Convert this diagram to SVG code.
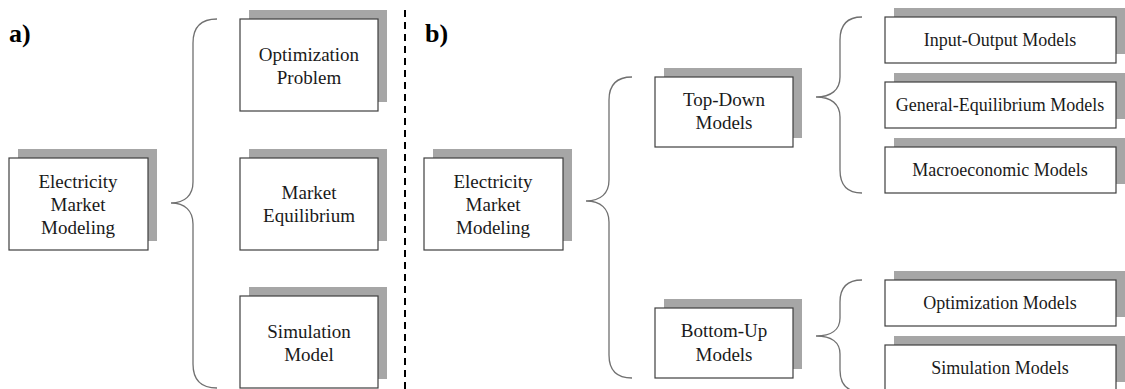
<svg xmlns="http://www.w3.org/2000/svg" width="1125" height="389" viewBox="0 0 1125 389">
<style>
.sh{fill:#a6a6a6;stroke:none}
.bx{fill:#fff;stroke:#3f3f3f;stroke-width:1.2}
.t{font-size:19px;fill:#1a1a1a;text-anchor:middle}
.s{font-size:18px;fill:#1a1a1a;text-anchor:middle}
.lb{font-size:26px;font-weight:bold;fill:#000}
.br{fill:none;stroke:#707070;stroke-width:1.3}
</style>
<rect width="1125" height="389" fill="#fff"/>
<g font-family="'Liberation Serif', 'DejaVu Serif', serif">
<text class="lb" x="9" y="42">a)</text>
<text class="lb" x="425" y="42">b)</text>
</g>
<line x1="405" y1="10" x2="405" y2="389" stroke="#000" stroke-width="2" stroke-dasharray="7,5"/>
<g id="connectors">
<path class="br" d="M217,19 C201,19 193,27 193,43 L193,182 C193,195 185,203 171,203 C185,203 193,211 193,224 L193,364 C193,380 201,388 217,388"/>
<path class="br" d="M632,77 C616,77 609,85 609,100 L609,180 C609,193 601,201 586,201 C601,201 609,209 609,222 L609,355 C609,370 616,378 632,378"/>
<path class="br" d="M862,17 C847,17 840,25 840,40 L840,77 C840,90 831,97 816,97 C831,97 840,104 840,117 L840,170 C840,185 847,193 862,193"/>
<path class="br" d="M862,280 C847,280 840,288 840,302 L840,318 C840,330 831,336 816,336 C831,336 840,342 840,354 L840,370 C840,384 847,392 862,392"/>
</g>
<g font-family="'Liberation Serif', 'DejaVu Serif', serif">
<g id="a_emm"><rect class="sh" x="18" y="149" width="139" height="92"/><rect class="bx" x="9" y="158" width="139" height="92"/><text class="t" x="78" y="188">Electricity</text><text class="t" x="78" y="211">Market</text><text class="t" x="78" y="234">Modeling</text></g>
<g id="a_opt"><rect class="sh" x="249" y="10" width="138" height="92"/><rect class="bx" x="240" y="19" width="138" height="92"/><text class="t" x="309" y="61">Optimization</text><text class="t" x="309" y="84">Problem</text></g>
<g id="a_meq"><rect class="sh" x="249" y="149" width="138" height="92"/><rect class="bx" x="240" y="158" width="138" height="92"/><text class="t" x="309" y="199">Market</text><text class="t" x="309" y="222">Equilibrium</text></g>
<g id="a_sim"><rect class="sh" x="249" y="287" width="138" height="92"/><rect class="bx" x="240" y="296" width="138" height="92"/><text class="t" x="309" y="338">Simulation</text><text class="t" x="309" y="361">Model</text></g>
<g id="b_emm"><rect class="sh" x="433" y="149" width="139" height="92"/><rect class="bx" x="424" y="158" width="139" height="92"/><text class="t" x="493" y="188">Electricity</text><text class="t" x="493" y="211">Market</text><text class="t" x="493" y="234">Modeling</text></g>
<g id="b_td"><rect class="sh" x="664" y="68" width="138" height="70"/><rect class="bx" x="655" y="77" width="138" height="70"/><text class="t" x="724" y="106">Top-Down</text><text class="t" x="724" y="129">Models</text></g>
<g id="b_bu"><rect class="sh" x="664" y="299" width="138" height="70"/><rect class="bx" x="655" y="308" width="138" height="70"/><text class="t" x="724" y="337">Bottom-Up</text><text class="t" x="724" y="361">Models</text></g>
<g id="b_io"><rect class="sh" x="894" y="8" width="231" height="46"/><rect class="bx" x="885" y="17" width="231" height="46"/><text class="s" x="1000" y="46">Input-Output Models</text></g>
<g id="b_ge"><rect class="sh" x="894" y="73" width="231" height="46"/><rect class="bx" x="885" y="82" width="231" height="46"/><text class="s" x="1000" y="111">General-Equilibrium Models</text></g>
<g id="b_mac"><rect class="sh" x="894" y="138" width="231" height="46"/><rect class="bx" x="885" y="147" width="231" height="46"/><text class="s" x="1000" y="176">Macroeconomic Models</text></g>
<g id="b_opt"><rect class="sh" x="894" y="271" width="231" height="46"/><rect class="bx" x="885" y="280" width="231" height="46"/><text class="s" x="1000" y="309">Optimization Models</text></g>
<g id="b_sim"><rect class="sh" x="894" y="336" width="231" height="46"/><rect class="bx" x="885" y="345" width="231" height="46"/><text class="s" x="1000" y="374">Simulation Models</text></g>
</g>
</svg>
